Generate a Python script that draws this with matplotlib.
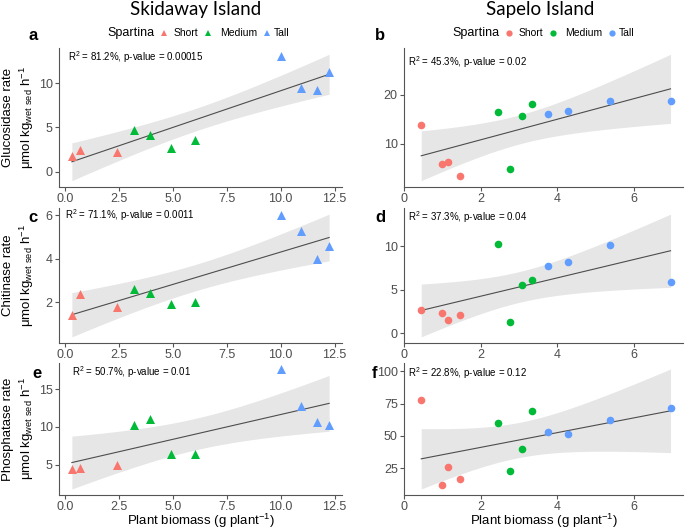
import numpy as np
import matplotlib
matplotlib.use("Agg")
from matplotlib import pyplot as plt
from matplotlib.lines import Line2D

plt.rcParams['font.family'] = ['Liberation Sans', 'DejaVu Sans']
plt.rcParams['mathtext.default'] = 'regular'

groups = ["Short", "Medium", "Tall"]
group_colors = ["#F8766D", "#00BA38", "#619CFF"]

# Skidaway Island (triangles)
skid_biomass = [0.3, 0.7, 2.4, 3.2, 3.95, 4.9, 6.0, 10.0, 10.95, 11.7, 12.25]
skid_group = [0, 0, 0, 1, 1, 1, 1, 2, 2, 2, 2]
skid_glucosidase = [1.75, 2.45, 2.2, 4.7, 4.2, 2.65, 3.55, 13.1, 9.5, 9.2, 11.25]
skid_chitinase = [1.4, 2.4, 1.8, 2.6, 2.45, 1.9, 2.0, 6.0, 5.3, 4.0, 4.6]
skid_phosphatase = [4.4, 4.55, 4.9, 10.25, 11.0, 6.45, 6.45, 17.7, 12.8, 10.7, 10.25]

# Sapelo Island (circles)
sap_biomass = [0.45, 1.0, 1.15, 1.47, 2.46, 2.77, 3.08, 3.33, 3.75, 4.27, 5.38, 6.96]
sap_group = [0, 0, 0, 0, 1, 1, 1, 1, 2, 2, 2, 2]
sap_glucosidase = [13.8, 5.9, 6.3, 3.5, 16.5, 4.85, 15.65, 18.2, 16.1, 16.6, 18.8, 18.7]
sap_chitinase = [2.6, 2.3, 1.5, 2.05, 10.3, 1.3, 5.55, 6.15, 7.7, 8.2, 10.1, 5.85]
sap_phosphatase = [77.5, 11.5, 25.8, 16.5, 60.0, 22.5, 39.5, 69.5, 53.0, 51.3, 62.5, 72.0]

stats_text = {
    'a': "R$^2$ = 81.2%, p-value = 0.00015",
    'b': "R$^2$ = 45.3%, p-value = 0.02",
    'c': "R$^2$ = 71.1%, p-value = 0.0011",
    'd': "R$^2$ = 37.3%, p-value = 0.04",
    'e': "R$^2$ = 50.7%, p-value = 0.01",
    'f': "R$^2$ = 22.8%, p-value = 0.12",
}
ylabels = ["Glucosidase rate", "Chitinase rate", "Phosphatase rate"]
unit_label = "μmol kg$_{wet\\ sed}$ h$^{-1}$"
skid_yticks = [[0, 5, 10], [2, 4, 6], [5, 10, 15]]
sap_yticks = [[10, 20], [0, 5, 10], [25, 50, 75, 100]]
skid_xticks = [0, 2.5, 5, 7.5, 10, 12.5]
sap_xticks = [0, 2, 4, 6]

T_CRIT = {9: 2.262, 10: 2.228}  # 95% t quantiles

W, H = 685, 530
fig = plt.figure(figsize=(W / 100, H / 100), dpi=100)

rows = [(48, 187), (208, 343), (363, 495)]
cols = [(59, 342), (404, 683)]
grey = '#4D4D4D'


def px_axes(col, row):
    x0, x1 = cols[col]
    y0, y1 = rows[row]
    return fig.add_axes([x0 / W, 1 - y1 / H, (x1 - x0) / W, (y1 - y0) / H])


def fx(px):
    return px / W


def fy(py):
    return 1 - py / H


def smooth_panel(ax, x, y, grp, marker, size, yticks, xticks, xfmt, label, txt_xy):
    x = np.asarray(x, float)
    y = np.asarray(y, float)
    n = len(x)
    slope, icept = np.polyfit(x, y, 1)
    resid = y - (slope * x + icept)
    s = np.sqrt(np.sum(resid ** 2) / (n - 2))
    xs = np.linspace(x.min(), x.max(), 80)
    fit = slope * xs + icept
    se = s * np.sqrt(1 / n + (xs - x.mean()) ** 2 / np.sum((x - x.mean()) ** 2))
    lo = fit - T_CRIT[n - 2] * se
    hi = fit + T_CRIT[n - 2] * se
    ax.fill_between(xs, lo, hi, color='#E6E6E6', lw=0, zorder=1)
    ax.plot(xs, fit, color=grey, lw=0.8, zorder=2)
    for g in range(3):
        idx = [i for i in range(n) if grp[i] == g]
        ax.scatter(x[idx], y[idx], marker=marker, s=size, color=group_colors[g],
                   linewidths=0, zorder=3)
    ymin = min(y.min(), lo.min())
    ymax = max(y.max(), hi.max())
    pad = 0.05 * (ymax - ymin)
    ax.set_ylim(ymin - pad, ymax + pad)
    xpad = 0.05 * (x.max() - x.min())
    ax.set_xlim(x.min() - xpad, x.max() + xpad)
    ax.set_yticks(yticks)
    ax.set_xticks(xticks)
    ax.set_xticklabels([xfmt.format(v) for v in xticks])
    for sp in ['top', 'right']:
        ax.spines[sp].set_visible(False)
    for sp in ['left', 'bottom']:
        ax.spines[sp].set_color('#555555')
        ax.spines[sp].set_linewidth(0.8)
    ax.tick_params(colors='#555555', labelcolor=grey, labelsize=9, length=3, width=0.8, pad=1.5)
    ax.text(txt_xy[0], txt_xy[1], stats_text[label], transform=ax.transAxes,
            fontsize=7, va='center', ha='left', color='black')


skid_data = [skid_glucosidase, skid_chitinase, skid_phosphatase]
sap_data = [sap_glucosidase, sap_chitinase, sap_phosphatase]
left_letters = ['a', 'c', 'e']
right_letters = ['b', 'd', 'f']
left_txt = [(0.032, 0.935), (0.021, 0.948), (0.046, 0.93)]
right_txt = [(0.014, 0.90), (0.014, 0.933), (0.014, 0.924)]

for r in range(3):
    axl = px_axes(0, r)
    smooth_panel(axl, skid_biomass, skid_data[r], skid_group, '^', 42,
                 skid_yticks[r], skid_xticks, "{:.1f}", left_letters[r], left_txt[r])
    axr = px_axes(1, r)
    smooth_panel(axr, sap_biomass, sap_data[r], sap_group, 'o', 30,
                 sap_yticks[r], sap_xticks, "{:.0f}", right_letters[r], right_txt[r])
    yc = fy((rows[r][0] + rows[r][1]) / 2)
    fig.text(fx(8.5), yc, ylabels[r], rotation=90, ha='center', va='center', fontsize=9.5)
    fig.text(fx(27), yc, unit_label, rotation=90, ha='center', va='center', fontsize=9.5)

for c in range(2):
    xc = fx((cols[c][0] + cols[c][1]) / 2)
    fig.text(xc, fy(521), "Plant biomass (g plant$^{-1}$)",
             ha='center', va='center', fontsize=9.5)

letter_pos = {'a': (33, 36), 'b': (380, 36), 'c': (33, 218), 'd': (380, 218),
              'e': (37, 373), 'f': (375, 373)}
for k, (px, py) in letter_pos.items():
    fig.text(fx(px), fy(py), k, fontsize=12, fontweight='bold', ha='center', va='center')

fig.text(fx(196), fy(10), "Skidaway Island", family=['Lato', 'DejaVu Sans'],
         fontsize=13.5, ha='center', va='center')
fig.text(fx(540), fy(10), "Sapelo Island", family=['Lato', 'DejaVu Sans'],
         fontsize=13.5, ha='center', va='center')

# legends: "Spartina" title on the left, keys in a row
key_marker_x = [164, 208, 267]
key_text_x = [174, 220, 274]
for off, mk in [(0, '^'), (345, 'o')]:
    fig.text(fx(107 + off), fy(33), "Spartina", fontsize=9, ha='left', va='center')
    for g in range(3):
        fig.add_artist(Line2D([fx(key_marker_x[g] + off)], [fy(33)], transform=fig.transFigure,
                              ls='none', marker=mk, markersize=4.5,
                              color=group_colors[g], markeredgewidth=0))
        fig.text(fx(key_text_x[g] + off), fy(33), groups[g], fontsize=7.5,
                 ha='left', va='center')

fig.savefig("out.png", dpi=100)
